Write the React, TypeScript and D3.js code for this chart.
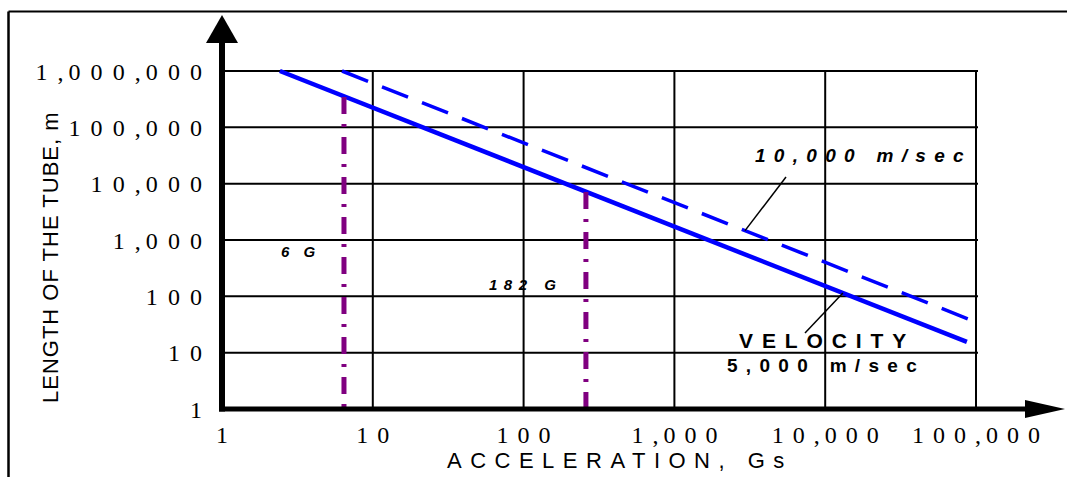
import React from "react";
import * as d3 from "d3";

// ---------- data ----------
const xTickValues = [1, 10, 100, 1000, 10000, 100000];
const xTickLabels = ["1", "10", "100", "1,000", "10,000", "100,000"];
const yTickValues = [1, 10, 100, 1000, 10000, 100000, 1000000];
const yTickLabels = ["1", "10", "100", "1,000", "10,000", "100,000", "1,000,000"];

// tube length (m) vs acceleration (G) for two exit velocities
const velocity5000 = [
  { a: 2.42, L: 1000000 },
  { a: 87000, L: 15.5 },
];
const velocity10000 = [
  { a: 6.25, L: 1000000 },
  { a: 89000, L: 39.5 },
];
// acceleration markers (vertical dash-dot lines)
const markerAccel = [6.44, 259];
const markerTop = [346000, 7100];
const markerLabels = ["6 G", "182 G"];

const W = 1067;
const H = 477;

const x = d3.scaleLog().domain([1, 100000]).range([222, 976]);
const y = d3.scaleLog().domain([1, 1000000]).range([409, 71]);

const serif = "'Liberation Serif', 'Times New Roman', serif";
const sans = "'Liberation Sans', Arial, sans-serif";

// per-character positions for the spaced-out numeric labels
function charStarts(label: string, d: number, c: number): number[] {
  const xs: number[] = [];
  let p = 0;
  for (let i = 0; i < label.length; i++) {
    xs.push(p);
    p += label[i] === "," ? c : d;
  }
  return xs;
}

function logInterp(line: { a: number; L: number }[], a: number) {
  const [p0, p1] = line;
  const t = (Math.log10(a) - Math.log10(p0.a)) / (Math.log10(p1.a) - Math.log10(p0.a));
  return Math.pow(10, Math.log10(p0.L) + t * (Math.log10(p1.L) - Math.log10(p0.L)));
}

export default function App() {
  const lineGen = d3
    .line<{ a: number; L: number }>()
    .x((d) => x(d.a))
    .y((d) => y(d.L));

  const x0 = x(1);
  const y0 = y(1);
  const xMax = x(100000);
  const yMax = y(1000000);

  // leader targets
  const lead10kA = 2940;
  const lead10kPt = [x(lead10kA), y(logInterp(velocity10000, lead10kA))];
  const lead5kA = 13100;
  const lead5kPt = [x(lead5kA), y(logInterp(velocity5000, lead5kA))];

  return (
    <svg width={W} height={H} style={{ display: "block", position: "absolute", left: 0, top: 0 }}>
      <rect x={0} y={0} width={W} height={H} fill="#fff" />
      {/* outer frame (left and top) */}
      <line x1={8.5} y1={11.5} x2={W} y2={11.5} stroke="#000" strokeWidth={2} />
      <line x1={8.5} y1={11.5} x2={8.5} y2={H} stroke="#000" strokeWidth={2.5} />

      {/* grid */}
      {yTickValues.slice(1).map((v) => (
        <line key={"h" + v} x1={x0} x2={xMax + 2} y1={y(v)} y2={y(v)} stroke="#000" strokeWidth={2} />
      ))}
      {xTickValues.slice(1).map((v) => (
        <line key={"v" + v} x1={x(v)} x2={x(v)} y1={yMax} y2={y0} stroke="#000" strokeWidth={2} />
      ))}

      {/* velocity lines */}
      <path d={lineGen(velocity10000) || ""} fill="none" stroke="#0000ff" strokeWidth={3.5} strokeDasharray="28 15" />
      <path d={lineGen(velocity5000) || ""} fill="none" stroke="#0000ff" strokeWidth={4.5} />

      {/* acceleration markers */}
      {markerAccel.map((a, i) => (
        <line
          key={"m" + i}
          x1={x(a)}
          x2={x(a)}
          y1={y(markerTop[i])}
          y2={y0}
          stroke="#800080"
          strokeWidth={5}
          strokeDasharray="17 10 3 10"
        />
      ))}

      {/* axes */}
      <line x1={x0} x2={x0} y1={y0 + 2.5} y2={40} stroke="#000" strokeWidth={6} />
      <polygon points={`${x0},15 ${x0 - 16},43 ${x0 + 16},43`} fill="#000" />
      <line x1={x0 - 3} x2={1027} y1={y0} y2={y0} stroke="#000" strokeWidth={5} />
      <polygon points={`1065,${y0} 1025,${y0 - 9} 1025,${y0 + 9}`} fill="#000" />

      {/* y tick labels */}
      {yTickValues.map((v, i) => {
        const lab = yTickLabels[i];
        const xs = charStarts(lab, 22.1, 11);
        const last = xs[xs.length - 1];
        const off = 190 - last;
        return (
          <text
            key={"yl" + v}
            x={xs.map((p) => (p + off).toFixed(1)).join(" ")}
            y={y(v) + 8.5}
            fontFamily={serif}
            fontSize={24}
            fill="#000"
          >
            {lab}
          </text>
        );
      })}

      {/* x tick labels */}
      {xTickValues.map((v, i) => {
        const lab = xTickLabels[i];
        const xs = charStarts(lab, 21, 11);
        const width = xs[xs.length - 1] + 12;
        const off = x(v) - width / 2;
        return (
          <text
            key={"xl" + v}
            x={xs.map((p) => (p + off).toFixed(1)).join(" ")}
            y={443}
            fontFamily={serif}
            fontSize={24}
            fill="#000"
          >
            {lab}
          </text>
        );
      })}

      {/* axis titles */}
      <text x={447} y={468} fontFamily={sans} fontSize={22} letterSpacing={8.5} fill="#000">
        ACCELERATION, Gs
      </text>
      <text
        transform="translate(58,403) rotate(-90)"
        fontFamily={sans}
        fontSize={22}
        letterSpacing={1}
        fill="#000"
      >
        LENGTH OF THE TUBE, m
      </text>

      {/* marker labels */}
      <text x={281} y={257} fontFamily={sans} fontSize={15} fontWeight="bold" fontStyle="italic" letterSpacing={5} fill="#000">
        {markerLabels[0]}
      </text>
      <text x={489} y={290} fontFamily={sans} fontSize={15} fontWeight="bold" fontStyle="italic" letterSpacing={6.5} fill="#000">
        {markerLabels[1]}
      </text>

      {/* velocity annotations */}
      <text x={755} y={162} fontFamily={sans} fontSize={19} fontWeight="bold" fontStyle="italic" letterSpacing={8.3} fill="#000">
        10,000 m/sec
      </text>
      <line x1={786} y1={177} x2={lead10kPt[0]} y2={lead10kPt[1]} stroke="#000" strokeWidth={1.5} />
      <text x={739} y={348} fontFamily={sans} fontSize={21} fontWeight="bold" letterSpacing={8.9} fill="#000">
        VELOCITY
      </text>
      <text x={727} y={372} fontFamily={sans} fontSize={19} fontWeight="bold" letterSpacing={8.3} fill="#000">
        5,000 m/sec
      </text>
      <line x1={805} y1={333} x2={lead5kPt[0]} y2={lead5kPt[1]} stroke="#000" strokeWidth={1.5} />
    </svg>
  );
}
